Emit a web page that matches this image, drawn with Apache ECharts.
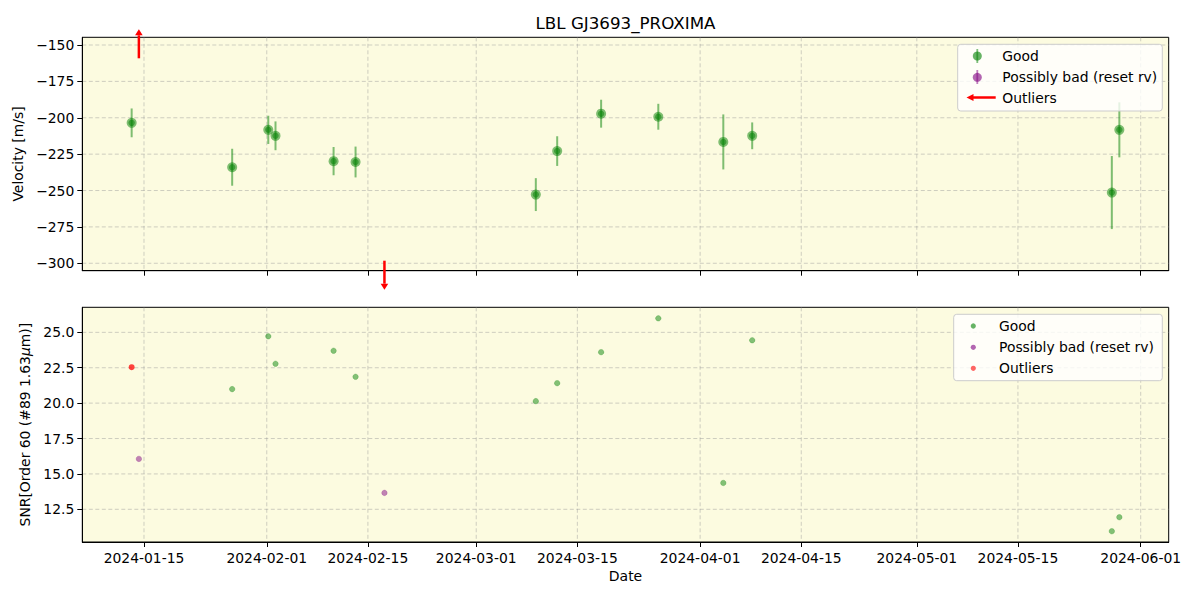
<!DOCTYPE html>
<html><head><meta charset="utf-8">
<script src="https://cdn.jsdelivr.net/npm/echarts@6/dist/echarts.min.js"></script>
<style>html,body{margin:0;padding:0;background:#fff}#c{width:1200px;height:600px}</style>
</head><body><div id="c"></div>
<script>
// ---------------- data ----------------
const goodDates = ['2024-01-13 07:00','2024-01-27 05:00','2024-02-01 05:00','2024-02-02 05:00','2024-02-10 06:00','2024-02-13 07:00','2024-03-09 06:00','2024-03-12 05:00','2024-03-18 07:00','2024-03-26 05:00','2024-04-04 05:00','2024-04-08 05:00','2024-05-28 00:00','2024-05-29 01:00'];
const goodRV   = [-203.5,-234.0,-208.3,-212.4,-229.8,-230.4,-252.8,-222.9,-197.2,-199.3,-216.6,-212.4,-251.4,-208.3];
const goodErr  = [9.9,12.7,9.7,9.9,9.7,10.6,11.3,10.2,9.6,8.9,18.9,9.2,25.1,18.9];
const goodSnrDates = ['2024-01-27 05:00','2024-02-01 05:00','2024-02-02 05:00','2024-02-10 06:00','2024-02-13 07:00','2024-03-09 06:00','2024-03-12 05:00','2024-03-18 07:00','2024-03-26 05:00','2024-04-04 05:00','2024-04-08 05:00','2024-05-28 00:00','2024-05-29 01:00'];
const goodSNR  = [20.99,24.72,22.78,23.70,21.86,20.14,21.41,23.60,25.99,14.36,24.44,10.95,11.94];
const badDates = ['2024-01-14 07:00','2024-02-17 07:00'];
const badSNR   = [16.06,13.66];
const outlierArrowDates = ['2024-01-14 07:00','2024-02-17 07:00'];
const outlierArrowDir   = [1,-1];   // 1 = above the axis range, -1 = below
const outlierSnrDates = ['2024-01-13 07:00'];
const outlierSNR      = [22.54];
const xTickLabels = ['2024-01-15','2024-02-01','2024-02-15','2024-03-01','2024-03-15','2024-04-01','2024-04-15','2024-05-01','2024-05-15','2024-06-01'];
const rvTicks  = [-300,-275,-250,-225,-200,-175,-150];
const snrTicks = [12.5,15.0,17.5,20.0,22.5,25.0];
const xRange = ['2024-01-06 11:00','2024-06-04 21:00'];
const rvRange = [-305.1,-144.7];
const snrRange = [10.19,26.77];

// ---------------- helpers ----------------
function ts(s){const [d,t]=s.split(' ');const [y,m,dd]=d.split('-').map(Number);let h=0,mi=0;if(t){[h,mi]=t.split(':').map(Number);}return Date.UTC(y,m-1,dd,h,mi);}
function fmtDate(v){const d=new Date(v);const p=n=>String(n).padStart(2,'0');return d.getUTCFullYear()+'-'+p(d.getUTCMonth()+1)+'-'+p(d.getUTCDate());}
const FONT='DejaVu Sans';
const xTicks = xTickLabels.map(ts);
const GRID_COLOR='rgba(150,150,150,0.45)';

function gridLinesSeries(xi, yi, yTicks){
  const data = xTicks.map(v=>[v, yTicks[0], 0]).concat(yTicks.map(v=>[xTicks[0], v, 1]));
  return {type:'custom', xAxisIndex:xi, yAxisIndex:yi, z:0, silent:true, data,
    renderItem:(params, api)=>{
      const cs=params.coordSys; const kind=api.value(2);
      if(kind===0){const x=api.coord([api.value(0), yTicks[0]])[0];
        return {type:'line', shape:{x1:x,y1:cs.y,x2:x,y2:cs.y+cs.height}, style:{stroke:GRID_COLOR,lineWidth:1,lineDash:[4,2.5]}};}
      const y=api.coord([xTicks[0], api.value(1)])[1];
      return {type:'line', shape:{x1:cs.x,y1:y,x2:cs.x+cs.width,y2:y}, style:{stroke:GRID_COLOR,lineWidth:1,lineDash:[4,2.5]}};
    }};
}

const axisCommonX = (gi, showLabel, name) => ({
  type:'value', gridIndex:gi, min:ts(xRange[0]), max:ts(xRange[1]), scale:true,
  name: name||'', nameLocation:'middle', nameGap:27,
  nameTextStyle:{fontFamily:FONT,fontSize:14,color:'#000'},
  axisLine:{show:true,lineStyle:{color:'#000',width:1}},
  axisTick:{show:true,customValues:xTicks,length:5,lineStyle:{color:'#000'}},
  axisLabel:{show:showLabel,customValues:xTicks,formatter:v=>fmtDate(v),fontFamily:FONT,fontSize:13.9,color:'#000',margin:9,hideOverlap:false},
  splitLine:{show:false}
});
const axisCommonY = (gi, rng, ticks, fmt, name, gap, rich) => ({
  type:'value', gridIndex:gi, min:rng[0], max:rng[1],
  name, nameLocation:'middle', nameGap:gap, nameRotate:90,
  nameTextStyle:{fontFamily:FONT,fontSize:13.9,color:'#000',rich:rich||{}},
  axisLine:{show:true,lineStyle:{color:'#000',width:1}},
  axisTick:{show:true,customValues:ticks,length:5,lineStyle:{color:'#000'}},
  axisLabel:{customValues:ticks,formatter:fmt,fontFamily:FONT,fontSize:13.9,color:'#000',margin:8},
  splitLine:{show:false}
});

const option = {
  animation:false,
  backgroundColor:'#fff',
  title:{text:'LBL GJ3693_PROXIMA', left:625.5, textAlign:'center', top:14, padding:0,
    textStyle:{fontFamily:FONT,fontSize:16.7,fontWeight:'normal',color:'#000'}},
  grid:[
    {left:82.3, right:31.3, top:37.3, height:233.4, show:true, backgroundColor:'#fcfbe0', borderColor:'#000', borderWidth:1},
    {left:82.3, right:31.3, top:307.3, height:234.7, show:true, backgroundColor:'#fcfbe0', borderColor:'#000', borderWidth:1}
  ],
  xAxis:[ axisCommonX(0,false), axisCommonX(1,true,'Date') ],
  yAxis:[
    axisCommonY(0, rvRange, rvTicks, v=>String(v).replace('-','\u2212'), 'Velocity [m/s]', 55),
    axisCommonY(1, snrRange, snrTicks, v=>v.toFixed(1), '{a|SNR[Order 60 (#89 1.63}{i|\u03bc}{a|m)]}', 49,
      {a:{fontFamily:FONT,fontSize:13.9,color:'#000'}, i:{fontFamily:FONT,fontSize:13.9,fontStyle:'italic',color:'#000'}})
  ],
  series:[
    gridLinesSeries(0,0,rvTicks),
    gridLinesSeries(1,1,snrTicks),
    { type:'custom', name:'Good', xAxisIndex:0, yAxisIndex:0, z:3,
      data: goodDates.map((d,i)=>[ts(d), goodRV[i], goodErr[i]]),
      encode:{x:0,y:1},
      renderItem:(params, api)=>{
        const x=api.value(0), y=api.value(1), e=api.value(2);
        const p=api.coord([x,y]), p1=api.coord([x,y-e]), p2=api.coord([x,y+e]);
        return {type:'group', children:[
          {type:'line', shape:{x1:p1[0],y1:p1[1],x2:p2[0],y2:p2[1]}, style:{stroke:'rgba(0,128,0,0.5)',lineWidth:2}},
          {type:'circle', shape:{cx:p[0],cy:p[1],r:5}, style:{fill:'rgba(0,128,0,0.5)'}},
          {type:'circle', shape:{cx:p[0],cy:p[1],r:3.2}, style:{fill:'rgba(0,128,0,0.5)'}}
        ]};
      }},
    { type:'custom', name:'Outliers', xAxisIndex:0, yAxisIndex:0, z:4, clip:false,
      data: outlierArrowDates.map((d,i)=>[ts(d), outlierArrowDir[i]]),
      renderItem:(params, api)=>{
        const cs=params.coordSys; const dir=api.value(1);
        const x=api.coord([api.value(0), rvRange[0]])[0];
        let tail, tip;
        if(dir>0){ tail=cs.y+21; tip=cs.y-8; } else { tail=cs.y+cs.height-10; tip=cs.y+cs.height+19; }
        const hl=6*(dir>0?1:-1), hw=3.8;
        return {type:'group', children:[
          {type:'line', shape:{x1:x,y1:tail,x2:x,y2:tip+hl}, style:{stroke:'#ff0000',lineWidth:2.5}},
          {type:'polygon', shape:{points:[[x,tip],[x-hw,tip+hl],[x+hw,tip+hl]]}, style:{fill:'#ff0000'}}
        ]};
      }},
    { type:'scatter', name:'Good', xAxisIndex:1, yAxisIndex:1, z:3, symbolSize:5.5,
      data: goodSnrDates.map((d,i)=>[ts(d), goodSNR[i]]),
      itemStyle:{color:'rgba(0,128,0,0.6)', borderColor:'rgba(0,128,0,0.35)', borderWidth:0.8}},
    { type:'scatter', name:'Possibly bad (reset rv)', xAxisIndex:1, yAxisIndex:1, z:3, symbolSize:5.5,
      data: badDates.map((d,i)=>[ts(d), badSNR[i]]),
      itemStyle:{color:'rgba(128,0,128,0.6)', borderColor:'rgba(128,0,128,0.35)', borderWidth:0.8}},
    { type:'scatter', name:'Outliers', xAxisIndex:1, yAxisIndex:1, z:4, symbolSize:6,
      data: outlierSnrDates.map((d,i)=>[ts(d), outlierSNR[i]]),
      itemStyle:{color:'rgba(255,0,0,0.92)'}}
  ],
  graphic:[
    {type:'rect', shape:{x:957.7,y:44.3,width:204.6,height:66.7,r:3}, style:{fill:'rgba(255,255,255,0.8)',stroke:'#cccccc',lineWidth:1}, z:10},
    {type:'line', shape:{x1:977.3,y1:49,x2:977.3,y2:63}, style:{stroke:'rgba(0,128,0,0.5)',lineWidth:1.8}, z:11},
    {type:'circle', shape:{cx:977.3,cy:56,r:4.5}, style:{fill:'rgba(0,128,0,0.6)'}, z:11},
    {type:'line', shape:{x1:977.3,y1:70,x2:977.3,y2:84}, style:{stroke:'rgba(128,0,128,0.5)',lineWidth:1.8}, z:11},
    {type:'circle', shape:{cx:977.3,cy:77.3,r:4.5}, style:{fill:'rgba(128,0,128,0.6)'}, z:11},
    {type:'line', shape:{x1:973,y1:97.5,x2:995.7,y2:97.5}, style:{stroke:'#ff0000',lineWidth:2.5}, z:11},
    {type:'polygon', shape:{points:[[966.5,97.5],[973.5,94],[973.5,101]]}, style:{fill:'#ff0000'}, z:11},
    {type:'text', x:1002.3, y:56, style:{text:'Good',fontFamily:FONT,fontSize:13.9,fill:'#000',verticalAlign:'middle'}, z:11},
    {type:'text', x:1002.3, y:77.3, style:{text:'Possibly bad (reset rv)',fontFamily:FONT,fontSize:13.9,fill:'#000',verticalAlign:'middle'}, z:11},
    {type:'text', x:1002.3, y:97.5, style:{text:'Outliers',fontFamily:FONT,fontSize:13.9,fill:'#000',verticalAlign:'middle'}, z:11},
    {type:'rect', shape:{x:953.7,y:314.3,width:208.6,height:66.4,r:3}, style:{fill:'rgba(255,255,255,0.8)',stroke:'#cccccc',lineWidth:1}, z:10},
    {type:'circle', shape:{cx:973.3,cy:326,r:2.6}, style:{fill:'rgba(0,128,0,0.6)'}, z:11},
    {type:'circle', shape:{cx:973.3,cy:347.3,r:2.6}, style:{fill:'rgba(128,0,128,0.6)'}, z:11},
    {type:'circle', shape:{cx:973.3,cy:368.3,r:2.6}, style:{fill:'rgba(255,0,0,0.6)'}, z:11},
    {type:'text', x:999, y:326, style:{text:'Good',fontFamily:FONT,fontSize:13.9,fill:'#000',verticalAlign:'middle'}, z:11},
    {type:'text', x:999, y:347.3, style:{text:'Possibly bad (reset rv)',fontFamily:FONT,fontSize:13.9,fill:'#000',verticalAlign:'middle'}, z:11},
    {type:'text', x:999, y:368.3, style:{text:'Outliers',fontFamily:FONT,fontSize:13.9,fill:'#000',verticalAlign:'middle'}, z:11}
  ]
};
const chart = echarts.init(document.getElementById('c'), null, {renderer:'svg'});
chart.setOption(option);
</script>
</body></html>
